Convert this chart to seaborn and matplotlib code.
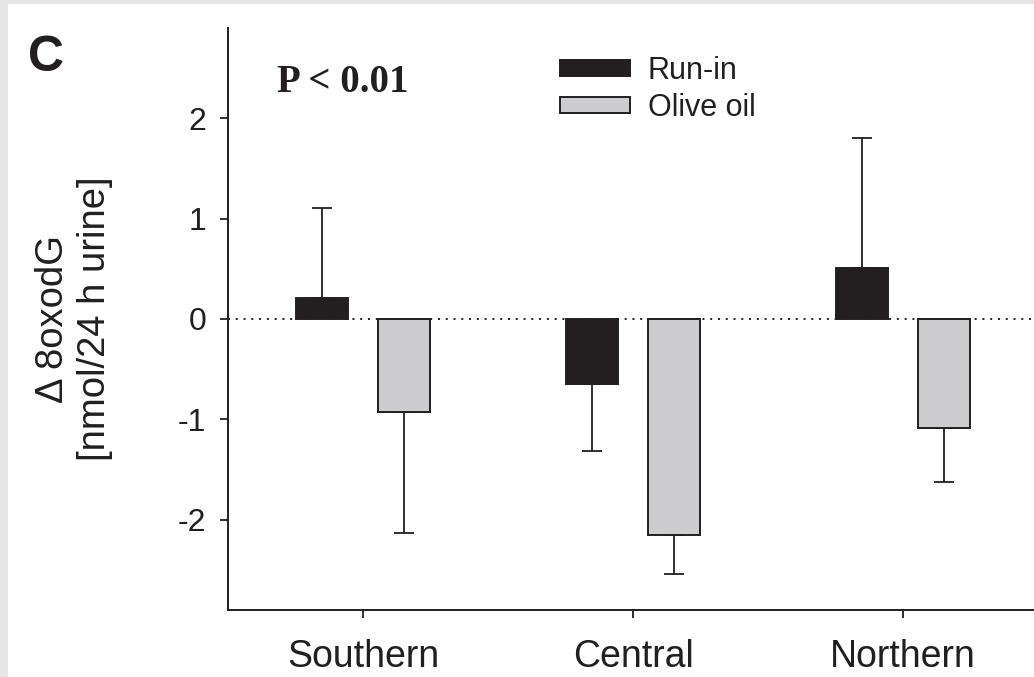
import numpy as np
import pandas as pd
import matplotlib
matplotlib.use('Agg')
import matplotlib.pyplot as plt
import seaborn as sns
from matplotlib.patches import Rectangle

# ---- data ----
regions = ['Southern', 'Central', 'Northern']
groups = ['Run-in', 'Olive oil']
run_in_mean = [0.21, -0.65, 0.51]
run_in_err = [0.90, 0.67, 1.29]
olive_mean = [-0.93, -2.15, -1.09]
olive_err = [1.20, 0.39, 0.53]
y_ticks = [-2, -1, 0, 1, 2]
y_label = 'Δ 8oxodG\n[nmol/24 h urine]'
p_text = 'P < 0.01'
panel_letter = 'C'

INK = '#231f20'
GREY = '#cdcdd0'

sns.set_theme(style='ticks')
plt.rcParams['font.family'] = ['Liberation Sans', 'DejaVu Sans']
plt.rcParams['axes.unicode_minus'] = False
plt.rcParams['text.color'] = INK
plt.rcParams['xtick.color'] = INK
plt.rcParams['ytick.color'] = INK
plt.rcParams['axes.labelcolor'] = INK

df = pd.DataFrame({
    'region': regions * 2,
    'group': [groups[0]] * len(regions) + [groups[1]] * len(regions),
    'value': run_in_mean + olive_mean,
    'err': run_in_err + olive_err,
})

W, H = 1034, 677
fig = plt.figure(figsize=(W / 100, H / 100), dpi=100)
ax = fig.add_axes([228 / W, 67 / H, 1 - 228 / W, 582 / H])

sns.barplot(data=df, x='region', y='value', hue='group', order=regions,
            hue_order=groups, palette={groups[0]: INK, groups[1]: GREY},
            width=0.607, gap=0.375, errorbar=None, edgecolor=INK,
            linewidth=1.4, saturation=1, ax=ax, zorder=2)

# one-sided error bars (away from zero), drawn behind the bars
for cont, grp in zip(ax.containers, groups):
    sub = df[df['group'] == grp].set_index('region').loc[regions]
    bars = sorted(cont, key=lambda b: b.get_x())
    xs = [b.get_x() + b.get_width() / 2 for b in bars]
    vals = sub['value'].to_numpy()
    errs = sub['err'].to_numpy()
    lower = np.where(vals < 0, errs, 0)
    upper = np.where(vals > 0, errs, 0)
    ax.errorbar(xs, vals, yerr=[lower, upper], fmt='none', ecolor=INK,
                elinewidth=1.3, capsize=7.2, capthick=1.3, zorder=1)

ax.axhline(0, color=INK, ls=(0, (1, 3)), lw=1.4, zorder=0.5)

ax.set_xlim(-0.5, 2.485)
ax.set_ylim(-2.9, 2.9)
ax.set_yticks(y_ticks)
ax.set_yticklabels([str(t) for t in y_ticks])
for s in ['top', 'right']:
    ax.spines[s].set_visible(False)
for s in ['left', 'bottom']:
    ax.spines[s].set_linewidth(1.4)
    ax.spines[s].set_color(INK)
ax.tick_params(axis='both', direction='out', length=5.8, width=1.3, color=INK)
ax.tick_params(axis='y', labelsize=23, pad=10)
ax.tick_params(axis='x', labelsize=27, pad=15)
ax.set_xlabel('')
ax.set_ylabel(y_label, fontsize=27.5, linespacing=1.22)
ax.yaxis.set_label_coords(-0.143, 0.5)

handles, labels = ax.get_legend_handles_labels()
if ax.get_legend() is not None:
    ax.get_legend().remove()
ax.legend(handles, labels, loc='upper left', bbox_to_anchor=(560 / W, 1 - 56 / H),
          bbox_transform=fig.transFigure, frameon=False, fontsize=22,
          handlelength=2.3, handleheight=0.42, handletextpad=0.57,
          labelspacing=0.22, borderpad=0, borderaxespad=0)

fig.text(277 / W, 1 - 92 / H, p_text, family=['Liberation Serif'],
         weight='bold', fontsize=28, va='baseline', ha='left')
fig.text(28 / W, 1 - 71 / H, panel_letter, weight='bold', fontsize=36,
         va='baseline', ha='left')

# light grey scan frame on left and top
fig.add_artist(Rectangle((0, 0), 8 / W, 1, transform=fig.transFigure,
                         facecolor='#e6e6e6', edgecolor='none', zorder=-5))
fig.add_artist(Rectangle((0, 1 - 4 / H), 1, 4 / H, transform=fig.transFigure,
                         facecolor='#e6e6e6', edgecolor='none', zorder=-5))

fig.savefig('out.png', dpi=100)
